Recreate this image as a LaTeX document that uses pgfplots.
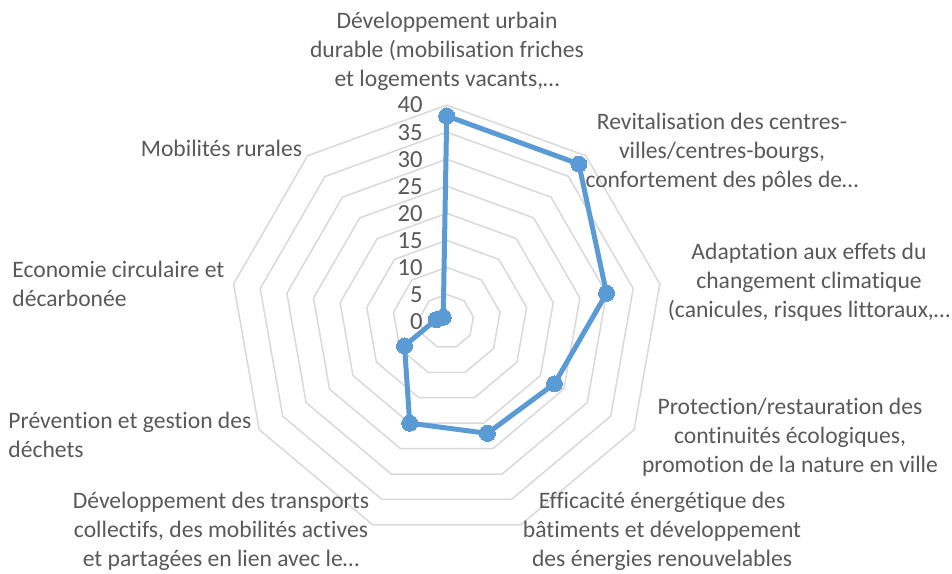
\documentclass[border=0pt]{standalone}
\usepackage{pgfplots}
\pgfplotsset{compat=1.18}
\usepackage{fontspec}
\setmainfont{Carlito}[Ligatures=NoCommon]
\definecolor{txt}{HTML}{595959}
\definecolor{gridc}{HTML}{D9D9D9}
\definecolor{ser}{HTML}{5B9BD5}
\begin{document}
\begin{tikzpicture}
\path[use as bounding box] (0,0) rectangle (476pt,286.5pt);
\begin{axis}[
  at={(0,0)}, anchor=south west,
  x=2.705pt, y=2.705pt,
  xmin=-82.57, xmax=93.40, ymin=-46.49, ymax=59.43,
  hide axis, clip=false,
]
\pgfplotsinvokeforeach{5,10,15,20,25,30,35,40}{
  \addplot[data cs=polar, gridc, line width=0.75pt, mark=none]
    coordinates {(90,#1) (50,#1) (10,#1) (-30,#1) (-70,#1) (-110,#1) (-150,#1) (-190,#1) (-230,#1) (90,#1)};
}
\addplot[data cs=polar, ser, line width=2.5pt, line join=round, mark=*, mark size=4pt, mark options={fill=ser, draw=ser, line width=0pt}]
  coordinates {(90,38) (50,38) (10,30) (-30,23) (-70,22) (-110,20) (-150,9) (-190,2) (-230,1) (90,38)};
\end{axis}
\begin{scope}[x=0.5pt, y=-0.5pt, yshift=286.5pt, every node/.style={text=txt, font=\fontsize{11.8pt}{14.5pt}\selectfont, inner sep=0pt}]
\foreach \v in {0,5,...,40} {\node[anchor=east, font=\fontsize{12.3pt}{14.5pt}\selectfont] at (423,{321.5-5.41*\v}) {\v};}
\node[align=center] at (447,51) {Développement urbain\\durable (mobilisation friches\\et logements vacants,…};
\node[align=center] at (722,152) {Revitalisation des centres-\\villes/centres-bourgs,\\confortement des pôles de…};
\node[align=center] at (809,282) {Adaptation aux effets du\\changement climatique\\(canicules, risques littoraux,…};
\node[align=center] at (790,437) {Protection/restauration des\\continuités écologiques,\\promotion de la nature en ville};
\node[align=center] at (662,531) {Efficacité énergétique des\\bâtiments et développement\\des énergies renouvelables};
\node[align=center] at (221,531) {Développement des transports\\collectifs, des mobilités actives\\et partagées en lien avec le…};
\node[align=left, anchor=west] at (8,434.5) {Prévention et gestion des\\déchets};
\node[align=left, anchor=west] at (12,283.5) {Economie circulaire et\\décarbonée};
\node[align=center] at (221.5,148) {Mobilités rurales};
\end{scope}
\end{tikzpicture}
\end{document}
